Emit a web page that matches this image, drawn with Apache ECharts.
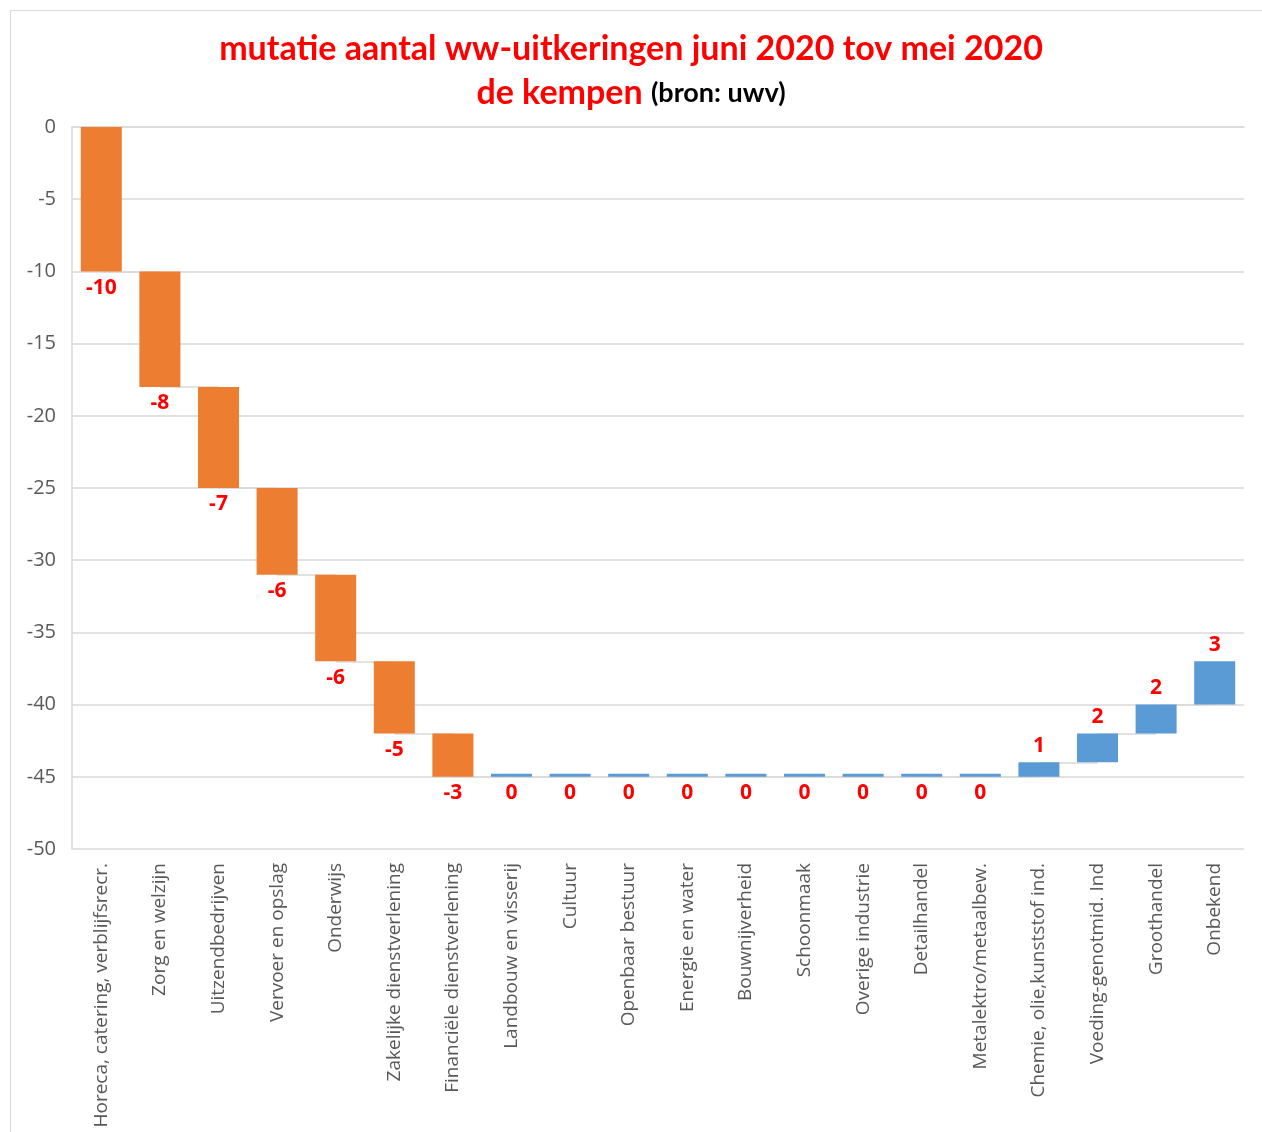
<!DOCTYPE html>
<html>
<head>
<meta charset="utf-8">
<script src="https://cdn.jsdelivr.net/npm/echarts@6/dist/echarts.min.js"></script>
<style>html,body{margin:0;padding:0;background:#fff;}#c{width:1262px;height:1132px;}</style>
</head>
<body>
<div id="c"></div>
<script>
const categories = [
  'Horeca, catering, verblijfsrecr.', 'Zorg en welzijn', 'Uitzendbedrijven', 'Vervoer en opslag',
  'Onderwijs', 'Zakelijke dienstverlening', 'Financiële dienstverlening', 'Landbouw en visserij',
  'Cultuur', 'Openbaar bestuur', 'Energie en water', 'Bouwnijverheid', 'Schoonmaak',
  'Overige industrie', 'Detailhandel', 'Metalektro/metaalbew.', 'Chemie, olie,kunststof ind.',
  'Voeding-genotmid. Ind', 'Groothandel', 'Onbekend'
];
const changes = [-10, -8, -7, -6, -6, -5, -3, 0, 0, 0, 0, 0, 0, 0, 0, 0, 1, 2, 2, 3];
const yTicks = [0, -5, -10, -15, -20, -25, -30, -35, -40, -45, -50];

const ORANGE = '#ED7D31', BLUE = '#5B9BD5';
const helper = [], visible = [], connectors = [];
let cum = 0;
changes.forEach((v, i) => {
  const start = cum, end = cum + v;
  if (v > 0) { helper.push(end); } else { helper.push(start); }
  visible.push({
    value: -Math.abs(v),
    itemStyle: { color: v < 0 ? ORANGE : BLUE },
    label: { position: v > 0 ? 'top' : 'bottom' }
  });
  cum = end;
  if (i < changes.length - 1) {
    connectors.push([{ coord: [categories[i], end] }, { coord: [categories[i + 1], end] }]);
  }
});

const chart = echarts.init(document.getElementById('c'), null, { renderer: 'canvas' });
chart.setOption({
  backgroundColor: '#fff',
  animation: false,
  graphic: [{
    type: 'rect', left: 8, top: 8, z: -10,
    shape: { width: 1252, height: 1130 },
    style: { fill: 'none', stroke: '#d9d9d9', lineWidth: 1 }
  }],
  title: {
    left: 'center', top: 27,
    text: 'mutatie aantal ww-uitkeringen juni 2020 tov mei 2020',
    subtext: '{r|de kempen }{b|(bron: uwv)}',
    itemGap: 10,
    textStyle: { color: '#FF0000', fontFamily: 'Lato', fontWeight: 'bold', fontSize: 34 },
    subtextStyle: {
      rich: {
        r: { color: '#FF0000', fontFamily: 'Lato', fontWeight: 'bold', fontSize: 34 },
        b: { color: '#000', fontFamily: 'Lato', fontWeight: 'bold', fontSize: 27 }
      }
    }
  },
  grid: { left: 72, right: 18, top: 127, bottom: 283, containLabel: false },
  xAxis: {
    type: 'category', data: categories,
    axisLine: { show: true, lineStyle: { color: '#d9d9d9', width: 1.5 } },
    axisTick: { show: false },
    axisLabel: { rotate: 90, interval: 0, color: '#595959', fontFamily: 'Open Sans', fontSize: 19, margin: 14 }
  },
  yAxis: {
    type: 'value', min: -50, max: 0, interval: 5,
    axisLine: { show: true, lineStyle: { color: '#d9d9d9', width: 1.5 } },
    axisTick: { show: false },
    splitLine: { lineStyle: { color: '#d9d9d9', width: 1.5 } },
    axisLabel: { color: '#595959', fontFamily: 'Open Sans', fontSize: 20, margin: 16,
      formatter: v => yTicks.includes(v) ? String(v) : '' }
  },
  series: [
    {
      type: 'bar', stack: 'w', stackStrategy: 'all', data: helper,
      itemStyle: { color: 'rgba(0,0,0,0)' }, barCategoryGap: '30%', silent: true,
      markLine: {
        silent: true, symbol: ['none', 'none'], z: 1,
        lineStyle: { color: '#d9d9d9', width: 1.5, type: 'solid' },
        label: { show: false }, data: connectors
      }
    },
    {
      type: 'bar', stack: 'w', stackStrategy: 'all', data: visible, barMinHeight: 3, z: 3,
      label: {
        show: true, color: '#FF0000', fontFamily: 'Open Sans', fontWeight: 'bold', fontSize: 21, distance: 6,
        formatter: p => String(changes[p.dataIndex])
      }
    }
  ]
});
</script>
</body>
</html>
